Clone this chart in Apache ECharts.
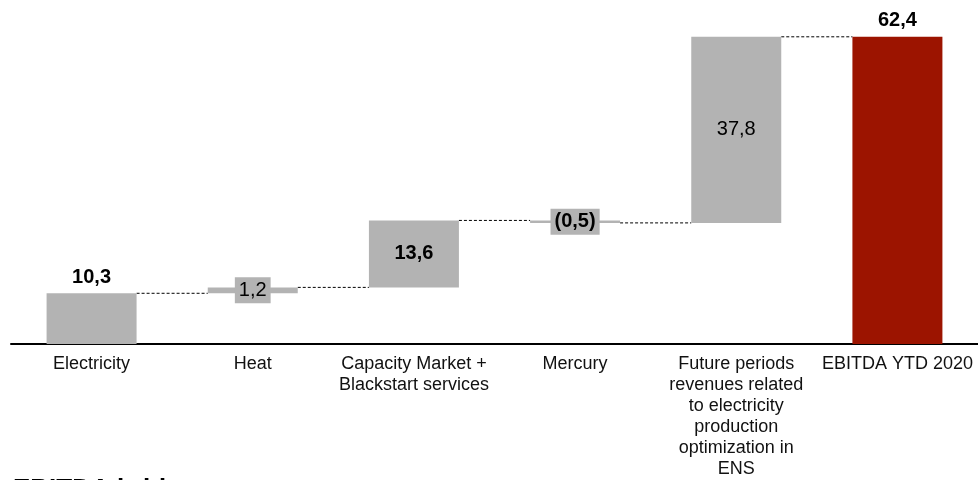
<!DOCTYPE html>
<html>
<head>
<meta charset="utf-8">
<script src="https://cdn.jsdelivr.net/npm/echarts@6/dist/echarts.min.js"></script>
<style>
  html, body { margin: 0; padding: 0; background: #fff; }
  #chart { width: 978px; height: 480px; }
</style>
</head>
<body>
<div id="chart"></div>
<script>
// categories and values read from the bridge
var categories = [
    'Electricity',
    'Heat',
    'Capacity Market +\nBlackstart services',
    'Mercury',
    'Future periods\nrevenues related\nto electricity\nproduction\noptimization in\nENS',
    'EBITDA YTD 2020'
];
var deltas = [10.3, 1.2, 13.6, -0.5, 37.8];
var total = 62.4;

var fmt = function (v) {
    var s = Math.abs(v).toFixed(1).replace('.', ',');
    return v < 0 ? '(' + s + ')' : s;
};

// build floating bars: invisible base + visible height
var base = [], height = [], levels = [];
var run = 0;
deltas.forEach(function (d) {
    var lo = Math.min(run, run + d);
    base.push(lo);
    height.push(Math.abs(d));
    run = Math.round((run + d) * 10) / 10;
    levels.push(run);
});
base.push(0);
height.push(total);

var GREY = '#b3b3b3', RED = '#9c1400';
var barW = 90;

// label look per bar (position, weight, boxed or not)
var labelCfg = [
    { position: 'top', fontWeight: 'bold' },
    { position: 'inside', fontWeight: 'normal', box: true },
    { position: 'inside', fontWeight: 'bold' },
    { position: 'inside', fontWeight: 'bold', box: true },
    { position: 'inside', fontWeight: 'normal' },
    { position: 'top', fontWeight: 'bold' }
];

var valueData = height.map(function (h, i) {
    var cfg = labelCfg[i];
    var raw = i < deltas.length ? deltas[i] : total;
    var lab = {
        show: true,
        position: cfg.position,
        distance: 6,
        fontSize: 20,
        fontWeight: cfg.fontWeight,
        color: '#000',
        fontFamily: 'Liberation Sans, Arial',
        formatter: fmt(raw)
    };
    if (cfg.box) {
        lab.backgroundColor = GREY;
        lab.padding = [3, 4, 3, 4];
    }
    return {
        value: h,
        itemStyle: { color: i === height.length - 1 ? RED : GREY },
        label: lab
    };
});

// dashed connectors between bar edges
var connData = levels.map(function (v, i) { return [i, v]; });

var option = {
    animation: false,
    backgroundColor: '#fff',
    grid: { left: 11, right: 0, top: 24, bottom: 136 },
    xAxis: {
        type: 'category',
        data: categories,
        axisTick: { show: false },
        axisLine: { lineStyle: { color: '#000', width: 2 } },
        axisLabel: {
            interval: 0,
            margin: 10,
            fontSize: 18,
            lineHeight: 21,
            color: '#111',
            fontFamily: 'Liberation Sans, Arial'
        }
    },
    yAxis: {
        type: 'value',
        min: 0,
        max: 65,
        show: false,
        splitLine: { show: false }
    },
    series: [
        {
            type: 'bar',
            stack: 'w',
            barWidth: barW,
            itemStyle: { color: 'transparent' },
            silent: true,
            data: base
        },
        {
            type: 'bar',
            stack: 'w',
            barWidth: barW,
            data: valueData
        },
        {
            type: 'custom',
            silent: true,
            z: 1,
            renderItem: function (params, api) {
                var i = api.value(0), v = api.value(1);
                var a = api.coord([i, v]);
                var b = api.coord([i + 1, v]);
                return {
                    type: 'line',
                    shape: { x1: a[0] + barW / 2, y1: a[1], x2: b[0] - barW / 2, y2: b[1] },
                    style: { stroke: '#000', lineWidth: 1, lineDash: [3, 2] }
                };
            },
            data: connData
        }
    ],
    graphic: [
        {
            type: 'text',
            left: 13,
            top: 477,
            style: {
                text: 'EBITDA bridge',
                fontSize: 26,
                fontWeight: 'bold',
                fill: '#000',
                fontFamily: 'Liberation Sans, Arial'
            }
        }
    ]
};

var chart = echarts.init(document.getElementById('chart'));
chart.setOption(option);
</script>
</body>
</html>
